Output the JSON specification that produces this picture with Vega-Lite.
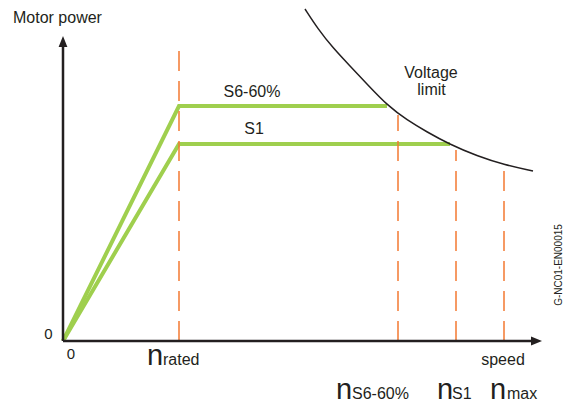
{
  "$schema": "https://vega.github.io/schema/vega-lite/v6.json",
  "width": 575,
  "height": 406,
  "padding": 0,
  "autosize": {"type": "none"},
  "background": "white",
  "config": {"view": {"stroke": null}, "text": {"font": "Liberation Sans", "color": "#231f20"}},
  "datasets": {
    "axes": [{"x": 0, "y": 0, "x2": 0, "y2": 294}, {"x": 0, "y": 0, "x2": 468, "y2": 0}],
    "arrowUp": [{"x": 0, "y": 299.5}],
    "arrowRight": [{"x": 473.5, "y": 0}],
    "green": [
      {"s": "S6-60%", "x": 0, "y": 0}, {"s": "S6-60%", "x": 116, "y": 235}, {"s": "S6-60%", "x": 324, "y": 235},
      {"s": "S1", "x": 0, "y": 0}, {"s": "S1", "x": 116, "y": 197}, {"s": "S1", "x": 387, "y": 197}
    ],
    "dash": [
      {"x": 116, "y": 0, "y2": 296}, {"x": 335, "y": 0, "y2": 226},
      {"x": 393, "y": 0, "y2": 191}, {"x": 441, "y": 0, "y2": 174}
    ],
    "curve": [
      {"x": 242, "y": 332}, {"x": 255, "y": 312}, {"x": 270, "y": 293}, {"x": 287, "y": 275},
      {"x": 304, "y": 257}, {"x": 325, "y": 235}, {"x": 344, "y": 221}, {"x": 364, "y": 209},
      {"x": 386, "y": 197}, {"x": 414, "y": 185}, {"x": 442, "y": 176}, {"x": 470, "y": 170}
    ],
    "textCenter": [
      {"x": 189, "y": 244, "t": "S6-60%"},
      {"x": 191, "y": 207, "t": "S1"},
      {"x": 368, "y": 263, "t": "Voltage"},
      {"x": 368.5, "y": 246, "t": "limit"},
      {"x": 440, "y": -24, "t": "speed"}
    ],
    "textLeft": [
      {"x": -50, "y": 318, "t": "Motor power"},
      {"x": 100, "y": -24, "t": "rated"},
      {"x": 289, "y": -58, "t": "S6-60%"},
      {"x": 389, "y": -58, "t": "S1"},
      {"x": 444, "y": -58, "t": "max"}
    ],
    "zeros": [
      {"x": -14.5, "y": 2, "t": "0"},
      {"x": 8, "y": -18, "t": "0"}
    ],
    "bigN": [
      {"x": 84, "y": -24, "t": "n"},
      {"x": 273, "y": -58, "t": "n"},
      {"x": 374, "y": -58, "t": "n"},
      {"x": 427, "y": -58, "t": "n"}
    ],
    "code": [{"x": 496, "y": 76, "t": "G-NC01-EN00015"}]
  },
  "layer": [
    {
      "data": {"name": "green"},
      "mark": {"type": "line", "color": "#9fcf4e", "strokeWidth": 4, "strokeJoin": "miter"},
      "encoding": {
        "x": {"field": "x", "type": "quantitative", "scale": {"domain": [-63, 512], "nice": false, "zero": false}, "axis": null},
        "y": {"field": "y", "type": "quantitative", "scale": {"domain": [-65, 341], "nice": false, "zero": false}, "axis": null},
        "detail": {"field": "s"}
      }
    },
    {
      "data": {"name": "dash"},
      "mark": {"type": "rule", "color": "#f47a32", "strokeWidth": 1.5, "strokeDash": [20, 10]},
      "encoding": {
        "x": {"field": "x", "type": "quantitative"},
        "y": {"field": "y", "type": "quantitative"},
        "y2": {"field": "y2"}
      }
    },
    {
      "data": {"name": "curve"},
      "mark": {"type": "line", "color": "#231f20", "strokeWidth": 1.5, "interpolate": "basis"},
      "encoding": {
        "x": {"field": "x", "type": "quantitative"},
        "y": {"field": "y", "type": "quantitative"}
      }
    },
    {
      "data": {"name": "axes"},
      "mark": {"type": "rule", "color": "#231f20", "strokeWidth": 2.5},
      "encoding": {
        "x": {"field": "x", "type": "quantitative"},
        "y": {"field": "y", "type": "quantitative"},
        "x2": {"field": "x2"},
        "y2": {"field": "y2"}
      }
    },
    {
      "data": {"name": "arrowUp"},
      "mark": {"type": "point", "shape": "M0,-1L-0.8,1L0.8,1Z", "size": 121, "filled": true, "color": "#231f20", "opacity": 1},
      "encoding": {
        "x": {"field": "x", "type": "quantitative"},
        "y": {"field": "y", "type": "quantitative"}
      }
    },
    {
      "data": {"name": "arrowRight"},
      "mark": {"type": "point", "shape": "M1,0L-1,-0.8L-1,0.8Z", "size": 121, "filled": true, "color": "#231f20", "opacity": 1},
      "encoding": {
        "x": {"field": "x", "type": "quantitative"},
        "y": {"field": "y", "type": "quantitative"}
      }
    },
    {
      "data": {"name": "textCenter"},
      "mark": {"type": "text", "fontSize": 16, "baseline": "alphabetic", "align": "center"},
      "encoding": {
        "x": {"field": "x", "type": "quantitative"},
        "y": {"field": "y", "type": "quantitative"},
        "text": {"field": "t"}
      }
    },
    {
      "data": {"name": "textLeft"},
      "mark": {"type": "text", "fontSize": 16, "baseline": "alphabetic", "align": "left"},
      "encoding": {
        "x": {"field": "x", "type": "quantitative"},
        "y": {"field": "y", "type": "quantitative"},
        "text": {"field": "t"}
      }
    },
    {
      "data": {"name": "zeros"},
      "mark": {"type": "text", "fontSize": 15, "baseline": "alphabetic", "align": "center"},
      "encoding": {
        "x": {"field": "x", "type": "quantitative"},
        "y": {"field": "y", "type": "quantitative"},
        "text": {"field": "t"}
      }
    },
    {
      "data": {"name": "bigN"},
      "mark": {"type": "text", "fontSize": 29, "baseline": "alphabetic", "align": "left"},
      "encoding": {
        "x": {"field": "x", "type": "quantitative"},
        "y": {"field": "y", "type": "quantitative"},
        "text": {"field": "t"}
      }
    },
    {
      "data": {"name": "code"},
      "mark": {"type": "text", "fontSize": 10, "baseline": "middle", "align": "center", "angle": 270},
      "encoding": {
        "x": {"field": "x", "type": "quantitative"},
        "y": {"field": "y", "type": "quantitative"},
        "text": {"field": "t"}
      }
    }
  ]
}
